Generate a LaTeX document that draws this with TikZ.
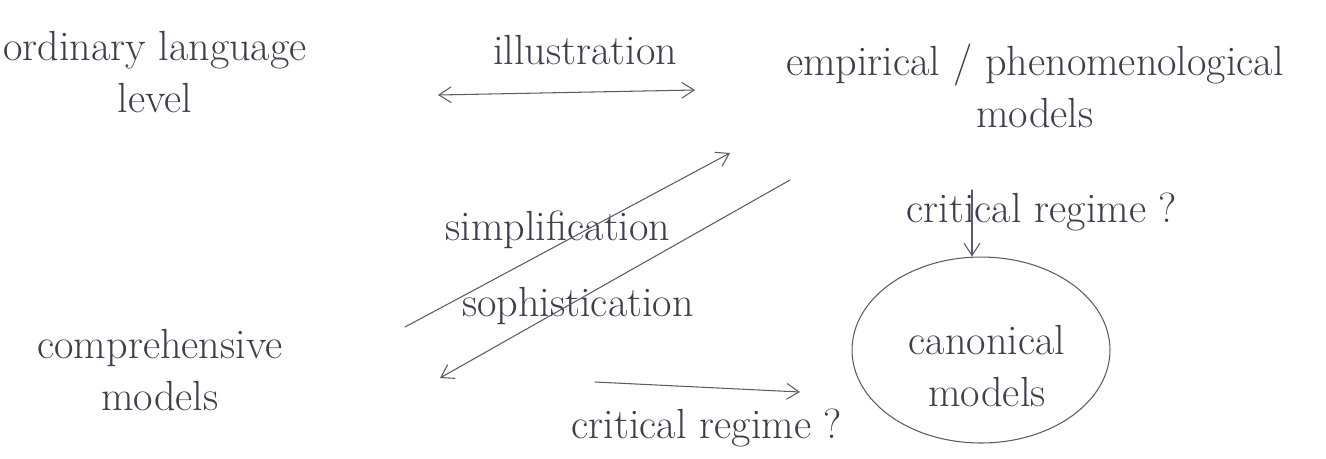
\documentclass[tikz,border=0pt]{standalone}
\usetikzlibrary{arrows.meta,shapes.geometric}
\definecolor{pencil}{HTML}{5A5A6A}
\definecolor{ink}{HTML}{3E3E4C}
\begin{document}
\begin{tikzpicture}[x=0.02cm,y=-0.02cm,
  lbl/.style={text=ink,font=\fontsize{24}{30}\selectfont,align=center,inner sep=0pt},
  conn/.style={draw=pencil,line width=0.6pt,line cap=round},
  tip/.style={-{Straight Barb[length=7pt,width=9pt]}},
  tips/.style={{Straight Barb[length=7pt,width=9pt]}-{Straight Barb[length=7pt,width=9pt]}}]
\useasboundingbox (0,0) rectangle (1326,458);
% nodes
\node[lbl] (ord) at (155,72) {ordinary language\\level};
\node[lbl] (illu) at (585,50) {illustration};
\node[lbl] (emp) at (1035,86) {empirical / phenomenological\\models};
\node[lbl] (comp) at (160,370) {comprehensive\\models};
\node[lbl] (simp) at (558,230) {simplification};
\node[lbl] (soph) at (578,306) {sophistication};
\node[lbl] (crit1) at (1042,212) {critical regime ?};
\node[draw=pencil,line width=0.6pt,ellipse,
      minimum width=5.16cm,minimum height=3.72cm,inner sep=0pt] (can) at (981,350) {};
\node[lbl] (cant) at (987,366) {canonical\\models};
\node[lbl] (crit2) at (707,428) {critical regime ?};
% connector ends
\coordinate (a1) at (438,95);
\coordinate (a2) at (695,90);
\coordinate (s1) at (405,327);
\coordinate (s2) at (730,153);
\coordinate (p1) at (790,180);
\coordinate (p2) at (440,378);
\coordinate (c1) at (972,190);
\coordinate (b1) at (595,382);
\coordinate (b2) at (800,392);
% connectors
\draw[conn,tips] (a1) -- (a2);
\draw[conn,tip] (s1) -- (s2);
\draw[conn,tip] (p1) -- (p2);
\draw[conn,tip] (c1) -- (can.north -| c1);
\draw[conn,tip] (b1) -- (b2);
\end{tikzpicture}
\end{document}
